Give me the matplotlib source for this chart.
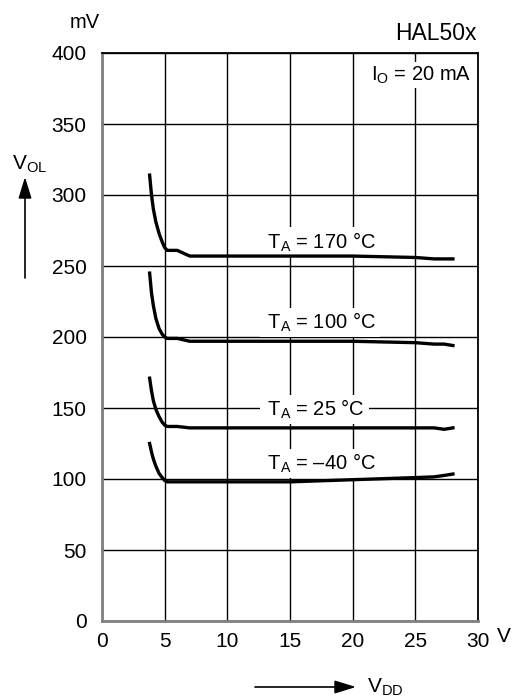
import matplotlib
matplotlib.use("Agg")
import matplotlib.pyplot as plt
from matplotlib.patches import FancyArrowPatch

plt.rcParams['font.family'] = ['Liberation Sans', 'DejaVu Sans']
plt.rcParams['mathtext.fontset'] = 'custom'
plt.rcParams['mathtext.rm'] = 'Liberation Sans'

# V_DD sample points (V) and V_OL curves (mV)
vdd = [3.8, 3.95, 4.1, 4.3, 4.55, 4.8, 5.0, 5.2, 6.0, 6.5, 7.0, 10, 15, 20, 25, 26.5, 27.3, 28]
vol_170 = [314, 300, 290, 281, 273, 267, 263, 261, 261, 259, 257, 257, 257, 257, 256, 255, 255, 255]
vol_100 = [245, 231, 222, 213, 206, 202, 200, 199, 199, 198, 197, 197, 197, 197, 196, 195, 195, 194]
vol_25 = [171, 162, 155, 149, 144, 140, 138, 137, 137, 136.5, 136, 136, 136, 136, 136, 136, 135, 136]
vol_m40 = [125, 119, 114, 109, 104, 101, 99, 98, 98, 98, 98, 98, 98, 99.5, 101, 101.5, 102.5, 103.5]

curves = [vol_170, vol_100, vol_25, vol_m40]
labels = [' T$_\\mathregular{A}$ = 170 °C ', ' T$_\\mathregular{A}$ = 100 °C ',
          ' T$_\\mathregular{A}$ = 25 °C ', ' T$_\\mathregular{A}$ = \u201340 °C ']
label_pos = [(12.8, 267), (12.8, 210.5), (12.8, 149), (12.8, 111)]

xticks = [0, 5, 10, 15, 20, 25, 30]
yticks = [0, 50, 100, 150, 200, 250, 300, 350, 400]

fig = plt.figure(figsize=(5.13, 7.0), dpi=100)
ax = fig.add_axes([102 / 513, 79 / 700, 376 / 513, 568 / 700])

ax.set_xlim(0, 30)
ax.set_ylim(0, 400)
ax.set_xticks(xticks)
ax.set_yticks(yticks)
ax.tick_params(length=0, labelsize=15, colors='black')
ax.tick_params(axis='x', pad=8)
ax.tick_params(axis='y', pad=11)
ax.grid(True, color='black', linewidth=1.0)
ax.set_axisbelow(True)

for side in ['left', 'bottom']:
    ax.spines[side].set_color('#808080')
    ax.spines[side].set_linewidth(2)
for side in ['top', 'right']:
    ax.spines[side].set_color('black')
    ax.spines[side].set_linewidth(1.3)

for vals in curves:
    ax.plot(vdd, vals, color='black', linewidth=2.4, zorder=3, solid_joinstyle='round')

# label boxes hide the grid but sit under the curves
for lab, (lx, ly) in zip(labels, label_pos):
    ax.text(lx, ly, lab, fontsize=14.5, ha='left', va='center', zorder=2.5,
            bbox=dict(facecolor='white', edgecolor='none', pad=2))

ax.text(21.5, 384.5, 'I$_\\mathregular{O}$ = 20 mA', fontsize=14.5, ha='left', va='center',
        zorder=2.5, bbox=dict(facecolor='white', edgecolor='none', pad=2))

W, H = 513, 700
fig.text(85 / W, 1 - 22 / H, 'mV', fontsize=14.5, ha='center', va='center')
fig.text(477 / W, 1 - 33 / H, 'HAL50x', fontsize=16.5, ha='right', va='center')
fig.text(497 / W, 1 - 637 / H, 'V', fontsize=15, ha='left', va='center')
fig.text(12 / W, 1 - 164 / H, 'V$_\\mathregular{OL}$', fontsize=15, ha='left', va='center')
fig.text(367 / W, 1 - 687 / H, 'V$_\\mathregular{DD}$', fontsize=15, ha='left', va='center')

fig.patches.append(FancyArrowPatch(
    (25 / W, 1 - 278 / H), (25 / W, 1 - 177 / H), transform=fig.transFigure,
    arrowstyle='-|>,head_length=13,head_width=4', color='black', linewidth=1.2,
    mutation_scale=1, shrinkA=0, shrinkB=0))
fig.patches.append(FancyArrowPatch(
    (255 / W, 1 - 687 / H), (356 / W, 1 - 687 / H), transform=fig.transFigure,
    arrowstyle='-|>,head_length=13,head_width=4', color='black', linewidth=1.2,
    mutation_scale=1, shrinkA=0, shrinkB=0))

fig.savefig('out.png', dpi=100)
